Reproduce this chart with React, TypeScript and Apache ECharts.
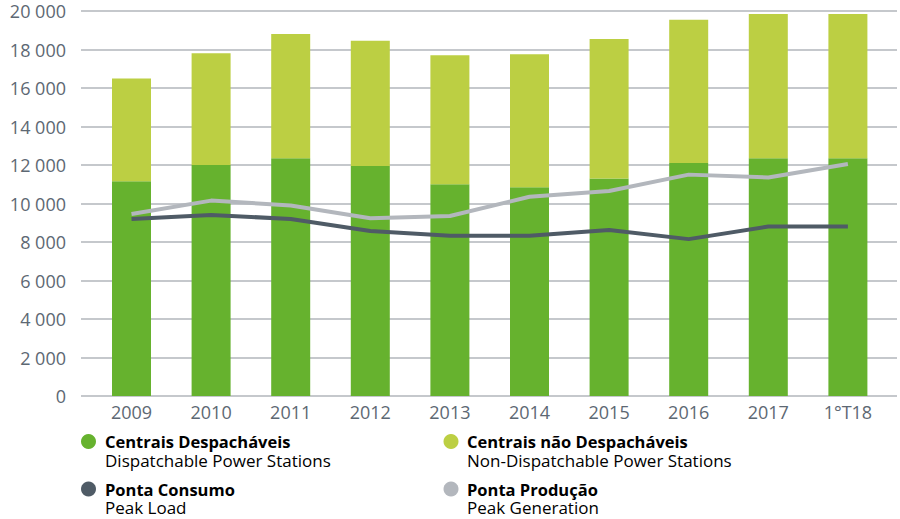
import React, { useEffect, useRef } from "react";
import * as echarts from "echarts";

const categories = ["2009", "2010", "2011", "2012", "2013", "2014", "2015", "2016", "2017", "1°T18"];
const dispatchable = [11150, 12000, 12350, 11950, 11000, 10850, 11300, 12100, 12350, 12350];
const nonDispatchable = [5350, 5800, 6450, 6500, 6700, 6900, 7250, 7450, 7500, 7500];
const peakLoad = [9200, 9400, 9200, 8570, 8330, 8330, 8620, 8150, 8800, 8800];
const peakGeneration = [9450, 10150, 9900, 9230, 9350, 10350, 10650, 11500, 11350, 12050];

const legendItems = [
  { title: "Centrais Despacháveis", sub: "Dispatchable Power Stations", color: "#66b22e" },
  { title: "Centrais não Despacháveis", sub: "Non-Dispatchable Power Stations", color: "#bccf43" },
  { title: "Ponta Consumo", sub: "Peak Load", color: "#4f5b66" },
  { title: "Ponta Produção", sub: "Peak Generation", color: "#b3b7bd" },
];

const FONT = "'Open Sans', sans-serif";

export default function App() {
  const ref = useRef<HTMLDivElement>(null);
  useEffect(() => {
    if (!ref.current) return;
    const chart = echarts.init(ref.current, null, { renderer: "svg" });
    const graphics: any[] = [];
    legendItems.forEach((it, i) => {
      const col = i % 2;
      const row = Math.floor(i / 2);
      const cx = col === 0 ? 88.5 : 451;
      const tx = col === 0 ? 105 : 467;
      const cy = row === 0 ? 441.5 : 489;
      graphics.push({
        type: "circle",
        shape: { cx, cy, r: 7.5 },
        style: { fill: it.color },
      });
      graphics.push({
        type: "text",
        x: tx,
        y: cy - 9.25,
        style: {
          text: `{b|${it.title}}\n{s|${it.sub}}`,
          verticalAlign: "top",
          rich: {
            b: {
              fontFamily: FONT,
              fontWeight: "bold",
              fontSize: 16.5,
              lineHeight: 18.5,
              color: "#4f5864",
            },
            s: {
              fontFamily: FONT,
              fontSize: 17,
              lineHeight: 18.5,
              color: "#66707b",
            },
          },
        },
      });
    });

    chart.setOption({
      animation: false,
      backgroundColor: "#ffffff",
      grid: [
        { left: 81, right: 3, top: 11, bottom: 123 },
        { left: 91.7, right: 12.3, top: 11, bottom: 123 },
      ],
      xAxis: [
        { type: "value", gridIndex: 0, show: false, min: 0, max: 1 },
        {
          type: "category",
          gridIndex: 1,
          data: categories,
          axisLine: { show: false },
          axisTick: { show: false },
          axisLabel: { color: "#5d6873", fontSize: 18, fontFamily: FONT, margin: 7 },
        },
      ],
      yAxis: [
        {
          type: "value",
          gridIndex: 0,
          min: 0,
          max: 20000,
          interval: 2000,
          axisLine: { show: false },
          axisTick: { show: false },
          axisLabel: {
            color: "#5d6873",
            fontSize: 18,
            fontFamily: FONT,
            margin: 15,
            formatter: (v: number) => {
              const s = String(v);
              return s.length > 3 ? s.slice(0, s.length - 3) + " " + s.slice(-3) : s;
            },
          },
          splitLine: { lineStyle: { color: "#c5c8cc", width: 2 } },
        },
        { type: "value", gridIndex: 1, min: 0, max: 20000, show: false },
      ],
      graphic: graphics,
      series: [
        {
          name: "Centrais Despacháveis",
          type: "bar",
          xAxisIndex: 1,
          yAxisIndex: 1,
          stack: "a",
          barWidth: 39,
          data: dispatchable,
          itemStyle: { color: "#66b22e" },
        },
        {
          name: "Centrais não Despacháveis",
          type: "bar",
          xAxisIndex: 1,
          yAxisIndex: 1,
          stack: "a",
          barWidth: 39,
          data: nonDispatchable,
          itemStyle: { color: "#bccf43" },
        },
        {
          name: "Ponta Produção",
          type: "line",
          xAxisIndex: 1,
          yAxisIndex: 1,
          data: peakGeneration,
          symbol: "none",
          lineStyle: { color: "#b3b7bd", width: 4 },
          z: 3,
        },
        {
          name: "Ponta Consumo",
          type: "line",
          xAxisIndex: 1,
          yAxisIndex: 1,
          data: peakLoad,
          symbol: "none",
          lineStyle: { color: "#4f5b66", width: 4 },
          z: 4,
        },
      ],
    });
    return () => chart.dispose();
  }, []);
  return <div ref={ref} style={{ width: 900, height: 519, position: "absolute", left: 0, top: 0 }} />;
}
